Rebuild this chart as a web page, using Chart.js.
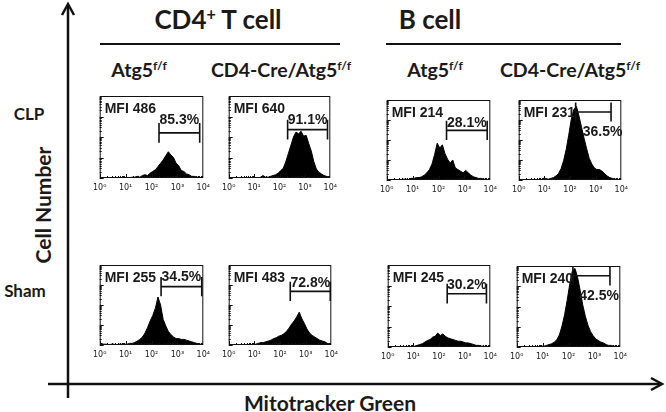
<!DOCTYPE html>
<html>
<head>
<meta charset="utf-8">
<script src="https://cdn.jsdelivr.net/npm/chart.js@4.4.1/dist/chart.umd.min.js"></script>
<style>
  html, body { margin: 0; padding: 0; background: #fff; }
  #fig { position: relative; width: 666px; height: 412px; overflow: hidden; }
  #fig canvas { position: absolute; }
  .t { position: absolute; transform: translate(-50%, -50%); white-space: nowrap;
       font-family: Lato, "Open Sans", sans-serif; font-weight: 700; color: #1a1a1a; }
  .t sup { font-size: 0.62em; vertical-align: 0.55em; line-height: 0; }
  .hdr { font-size: 26px; }
  .sub { font-size: 19.5px; }
  .row { font-size: 17px; }
  .ax { font-size: 21px; }
</style>
</head>
<body>
<div id="fig">
  <svg width="666" height="412" style="position:absolute;left:0;top:0">
    <g stroke="#111" stroke-width="2.5" fill="none">
      <line x1="68" y1="5" x2="68" y2="398"/>
      <polyline points="62,15 68,4 74,15"/>
      <line x1="48" y1="384" x2="661" y2="384"/>
      <polyline points="651,378 662,384 651,390"/>
    </g>
    <g stroke="#111" stroke-width="2">
      <line x1="100" y1="44" x2="340" y2="44"/>
      <line x1="386" y1="44" x2="621" y2="44"/>
    </g>
  </svg>
  <div class="t hdr" style="left:218px;top:19px">CD4<sup>+</sup> T cell</div>
  <div class="t hdr" style="left:430px;top:19px">B cell</div>
  <div class="t sub" style="left:139px;top:69px">Atg5<sup>f/f</sup></div>
  <div class="t sub" style="left:281px;top:69px">CD4-Cre/Atg5<sup>f/f</sup></div>
  <div class="t sub" style="left:435px;top:69px">Atg5<sup>f/f</sup></div>
  <div class="t sub" style="left:570px;top:69px">CD4-Cre/Atg5<sup>f/f</sup></div>
  <div class="t row" style="left:29px;top:113px">CLP</div>
  <div class="t row" style="left:25px;top:290px">Sham</div>
  <div class="t ax" style="left:42px;top:205px;transform:translate(-50%,-50%) rotate(-90deg)">Cell Number</div>
  <div class="t ax" style="left:330px;top:402px">Mitotracker Green</div>
</div>
<script>
// histogram bins, in log10 units of fluorescence (10^0 .. 10^4)
const binCenters = [0.05, 0.15, 0.25, 0.35, 0.45, 0.55, 0.65, 0.75, 0.85, 0.95,
                    1.05, 1.15, 1.25, 1.35, 1.45, 1.55, 1.65, 1.75, 1.85, 1.95,
                    2.05, 2.15, 2.25, 2.35, 2.45, 2.55, 2.65, 2.75, 2.85, 2.95,
                    3.05, 3.15, 3.25, 3.35, 3.45, 3.55, 3.65, 3.75, 3.85, 3.95];

// cell counts per bin, % of the y range
const clpCd4Atg5   = [0,0,0,0,0,0,0,0,0,0, 0,0,1,1,2,1,3,4,3,6, 8,10,14,18,22,27,32,28,25,18, 15,9,8,5,4,2,2,1,1,0];
const clpCd4Cre    = [0,0,0,0,0,0,0,0,0,0, 0,0,1,3,1,1,2,3,4,6, 9,12,20,30,40,50,56,54,57,51, 52,42,33,20,11,7,5,3,2,1];
const clpBAtg5     = [0,0,0,0,0,0,1,1,0,2, 2,3,3,4,6,9,13,20,32,46, 40,44,33,26,21,25,15,13,11,9, 12,9,6,4,3,2,2,1,1,0];
const clpBCre      = [0,0,0,0,0,0,0,0,0,2, 2,1,2,3,5,8,14,24,38,56, 76,88,92,80,66,52,39,27,20,15, 13,13,11,8,5,3,2,1,1,0];
const shamCd4Atg5  = [2,1,1,0,1,1,0,1,1,1, 1,2,2,3,5,7,10,15,22,30, 37,46,60,50,32,24,17,13,10,8, 8,7,7,6,5,4,3,2,1,1];
const shamCd4Cre   = [0,0,0,0,0,0,0,0,0,1, 1,2,3,3,4,5,6,8,9,11, 12,14,17,21,26,30,35,41,33,27, 20,15,12,10,8,6,5,4,2,1];
const shamBAtg5    = [0,0,0,0,0,0,0,0,0,1, 1,2,3,4,6,8,9,12,13,17, 14,16,13,11,10,9,8,7,7,6, 5,5,4,3,2,2,1,1,0,0];
const shamBCre     = [0,0,0,0,0,0,0,0,0,1, 1,2,3,4,6,9,15,26,40,58, 78,94,97,86,70,52,38,27,19,14, 10,8,6,5,3,2,2,1,1,0];

const series = [clpCd4Atg5, clpCd4Cre, clpBAtg5, clpBCre, shamCd4Atg5, shamCd4Cre, shamBAtg5, shamBCre];
const mfiLabels = ['MFI 486', 'MFI 640', 'MFI 214', 'MFI 231', 'MFI 255', 'MFI 483', 'MFI 245', 'MFI 240'];
const gatePercent = ['85.3%', '91.1%', '28.1%', '36.5%', '34.5%', '72.8%', '30.2%', '42.5%'];
const gateFrom  = [2.29, 2.32, 2.31, 2.22, 2.37, 2.40, 2.32, 2.17];
const gateTo    = [3.86, 3.89, 3.88, 3.60, 3.94, 3.96, 3.85, 3.60];
const gateLevel = [55, 59, 62, 85, 73, 67, 65, 88];
const labelLevel = [70, 71, 71, 60, 85, 77, 76, 63];
const labelAt   = [null, null, null, 3.27, null, null, null, 3.18];
const tickLabels = ['10⁰', '10¹', '10²', '10³', '10⁴'];

// plot boxes on the page: left, top, width, height
const boxes = [
  [96, 96, 111, 82], [225, 96, 109, 82], [383, 100, 111, 80], [515, 100, 110, 80],
  [96, 265, 111, 80], [225, 265, 110, 80], [384, 265, 110, 82], [513, 266, 111, 81]
];

const panelDecor = {
  id: 'panelDecor',
  afterDatasetsDraw(chart, args, opts) {
    const { ctx, chartArea: a, scales: { x, y } } = chart;
    const p = opts.index;
    ctx.save();
    ctx.strokeStyle = '#111';
    ctx.lineWidth = 1;
    ctx.strokeRect(a.left + 0.5, a.top + 0.5, a.right - a.left - 1, a.bottom - a.top - 1);

    // log minor ticks, pointing inwards
    ctx.beginPath();
    for (let d = 0; d < 4; d++) {
      for (let k = 1; k < 10; k++) {
        const len = k === 1 ? 4 : 2;
        const px = Math.round(x.getPixelForValue(d + Math.log10(k))) + 0.5;
        ctx.moveTo(px, a.bottom); ctx.lineTo(px, a.bottom - len);
        const py = Math.round(y.getPixelForValue((d + Math.log10(k)) * 25)) + 0.5;
        ctx.moveTo(a.left, py); ctx.lineTo(a.left + len, py);
      }
    }
    ctx.stroke();

    // gate bracket
    const gy = y.getPixelForValue(gateLevel[p]);
    const g0 = x.getPixelForValue(gateFrom[p]);
    const g1 = x.getPixelForValue(gateTo[p]);
    const top = y.getPixelForValue(Math.min(gateLevel[p] + 12, 99));
    const bot = y.getPixelForValue(gateLevel[p] - 12);
    ctx.lineWidth = 1.6;
    ctx.beginPath();
    ctx.moveTo(g0, gy); ctx.lineTo(g1, gy);
    ctx.moveTo(g0, top); ctx.lineTo(g0, bot);
    ctx.moveTo(g1, top); ctx.lineTo(g1, bot);
    ctx.stroke();

    ctx.fillStyle = '#1a1a1a';
    ctx.font = 'bold 14px "Liberation Sans", Arial, sans-serif';
    ctx.textBaseline = 'middle';
    ctx.textAlign = 'center';
    const lx = labelAt[p] === null ? (g0 + g1) / 2 : x.getPixelForValue(labelAt[p]);
    ctx.fillText(gatePercent[p], lx, y.getPixelForValue(labelLevel[p]));
    ctx.textAlign = 'left';
    ctx.fillText(mfiLabels[p], a.left + 5, a.top + 13);
    ctx.restore();
  }
};

const fig = document.getElementById('fig');
const padL = 8, padR = 8, padT = 2, axisH = 14;

series.forEach((vals, p) => {
  const [bl, bt, bw, bh] = boxes[p];
  const cv = document.createElement('canvas');
  cv.width = bw + padL + padR;
  cv.height = bh + padT + axisH;
  cv.style.left = (bl - padL) + 'px';
  cv.style.top = (bt - padT) + 'px';
  fig.appendChild(cv);

  new Chart(cv.getContext('2d'), {
    type: 'line',
    data: {
      datasets: [{
        data: binCenters.map((b, i) => ({ x: b, y: vals[i] })),
        borderColor: '#000',
        backgroundColor: '#000',
        borderWidth: 1,
        pointRadius: 0,
        fill: 'origin'
      }]
    },
    options: {
      responsive: false,
      animation: false,
      events: [],
      layout: { padding: { left: padL, right: padR, top: padT, bottom: 0 } },
      plugins: { legend: { display: false }, tooltip: { enabled: false }, panelDecor: { index: p } },
      scales: {
        x: {
          type: 'linear', min: 0, max: 4,
          grid: { display: false, drawTicks: false },
          border: { display: false },
          ticks: {
            stepSize: 1, autoSkip: false, maxRotation: 0, padding: 5,
            color: '#222', font: { size: 8, family: '"DejaVu Sans", "Liberation Sans", sans-serif' },
            callback: v => tickLabels[v]
          },
          afterFit: s => { s.height = axisH; }
        },
        y: { display: false, min: 0, max: 100 }
      }
    },
    plugins: [panelDecor]
  });
});
</script>
</body>
</html>
